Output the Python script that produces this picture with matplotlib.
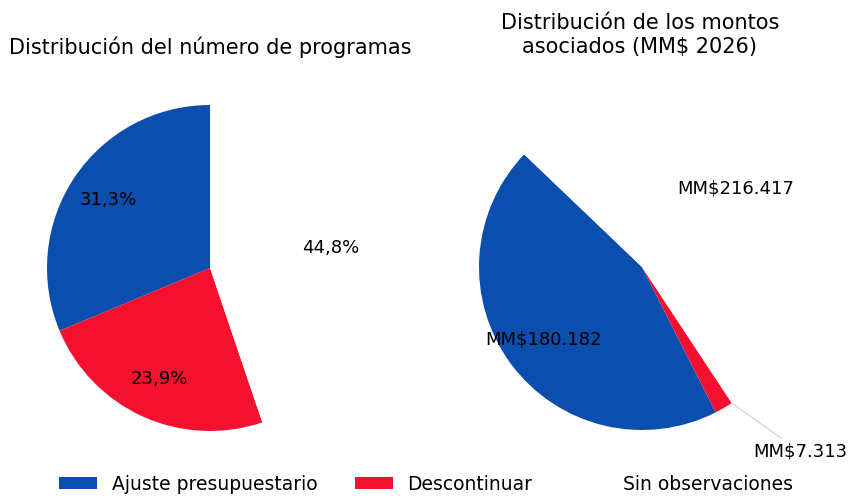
import matplotlib
matplotlib.use("Agg")
from matplotlib import pyplot as plt
import numpy as np

# data
categorias = ['Ajuste presupuestario', 'Descontinuar', 'Sin observaciones']
pct_programas = [31.3, 23.9, 44.8]
montos = [180.182, 7.313, 216.417]
colores = ['#0C4EAD', '#F4102E', 'white']

W, H = 849, 496
fig = plt.figure(figsize=(W / 100, H / 100), dpi=100)


def pie_axes(cx, cy, r):
    # axes in pixel units, pie limits are +-1.25
    s = 2.5 * r
    return fig.add_axes([(cx - s / 2) / W, (H - cy - s / 2) / H, s / W, s / H])


# left pie: number of programs
ax1 = pie_axes(210, 268, 163)
wedges, texts, autotexts = ax1.pie(
    pct_programas, colors=colores, startangle=90, pctdistance=0.75,
    autopct=lambda p: f'{p:.1f}%'.replace('.', ','),
    textprops=dict(fontsize=13, color='black'))
ax1.set_aspect('equal')

# right pie: amounts
ax2 = pie_axes(642, 267, 163)
w2, t2 = ax2.pie(montos, colors=colores, startangle=136.3)
ax2.set_aspect('equal')
for i, w in enumerate(w2):
    lbl = f'MM${montos[i]:.3f}'
    mid = np.deg2rad((w.theta1 + w.theta2) / 2)
    x, y = np.cos(mid), np.sin(mid)
    if montos[i] / sum(montos) < 0.05:
        # small slice: label outside with a leader line from the slice tip
        tip = np.deg2rad(w.theta2)
        ax2.annotate(lbl, xy=(np.cos(tip), np.sin(tip)),
                     xytext=(1.3 * x + 0.32, 1.3 * y - 0.01),
                     ha='center', va='center', fontsize=13,
                     arrowprops=dict(arrowstyle='-', color='#d0d0d0', lw=0.8,
                                     shrinkA=2, shrinkB=0))
    else:
        ax2.text(0.75 * x, 0.75 * y, lbl, ha='center', va='center', fontsize=13)

fig.text(210 / W, 1 - 47 / H, 'Distribución del número de programas',
         ha='center', va='center', fontsize=15)
fig.text(640 / W, 1 - 35 / H, 'Distribución de los montos\nasociados (MM$ 2026)',
         ha='center', va='center', fontsize=15, linespacing=1.2)

fig.legend(wedges, categorias, loc='center', bbox_to_anchor=(426 / W, 1 - 484 / H),
           ncol=3, frameon=False, fontsize=13.5, handlelength=2.0, handleheight=0.65,
           handletextpad=0.8, columnspacing=2.0)

plt.savefig('out.png', dpi=100)
